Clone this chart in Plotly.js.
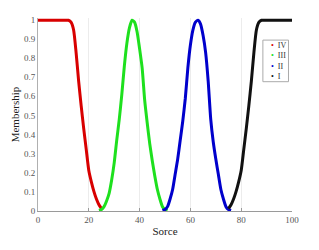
<!DOCTYPE html>
<html>
<head>
<meta charset="utf-8">
<script src="https://cdn.plot.ly/plotly-3.0.1.min.js"></script>
<style>html,body{margin:0;padding:0;background:#fff;}#chart{width:319px;height:250px;}</style>
</head>
<body>
<div id="chart"></div>
<script>
// Series IV (red)
const xIV = [0,1,2,3,4,5,6,7,8,9,10,11,12,13,14,15,16,17,18,19,20,21,22,23,24,25];
const yIV = [1,1,1,1,1,1,1,1,1,1,1,1,1,0.99,0.95,0.83,0.68,0.55,0.43,0.32,0.21,0.15,0.10,0.06,0.03,0.01];
// Series III (green)
const xIII = [24,25,26,27,28,29,30,31,32,33,34,35,36,37,38,39,40,41,42,43,44,45,46,47,48,49,50,51];
const yIII = [0,0.005,0.02,0.05,0.09,0.16,0.25,0.37,0.48,0.61,0.76,0.88,0.96,1.0,0.99,0.94,0.85,0.75,0.58,0.46,0.35,0.26,0.18,0.11,0.06,0.02,0.005,0];
// Series II (blue)
const xII = [49,50,51,52,53,54,55,56,57,58,59,60,61,62,63,64,65,66,67,68,69,70,71,72,73,74,75,76];
const yII = [0,0.005,0.02,0.06,0.11,0.19,0.27,0.37,0.47,0.59,0.75,0.87,0.95,0.99,1.0,0.98,0.92,0.83,0.68,0.48,0.36,0.27,0.19,0.11,0.06,0.02,0.005,0];
// Series I (black)
const xI = [75,76,77,78,79,80,81,82,83,84,85,86,87,88,89,90,91,92,93,94,95,96,97,98,99,100];
const yI = [0.01,0.03,0.06,0.10,0.15,0.21,0.32,0.43,0.55,0.68,0.83,0.95,0.99,1,1,1,1,1,1,1,1,1,1,1,1,1];

const names = ['IV','III','II','I'];
const colors = ['#d80000','#1ee01e','#0000cc','#111111'];
const xs = [xIV,xIII,xII,xI];
const ys = [yIV,yIII,yII,yI];

const xTicks = [0,20,40,60,80,100];
const yTicks = [0,0.1,0.2,0.3,0.4,0.5,0.6,0.7,0.8,0.9,1];

const traces = xs.map((x,i)=>({
  x: x, y: ys[i], type:'scatter', mode:'lines', name: names[i],
  line:{color: colors[i], width:3, shape:'spline', smoothing:0.6},
  showlegend:false, hoverinfo:'skip'
}));

const serif = 'Liberation Serif, Times New Roman, serif';
// manual compact legend (one annotation, one line per series)
const pxX = p => (p-38.5)/253;
const pxY = p => (211-p)/190.3;
const legendText = names.map((n,i)=>'<span style="color:'+colors[i]+'">•</span>  '+n).join('<br>');
const annotations = [{xref:'paper',yref:'paper',x:pxX(269),y:pxY(63),xanchor:'left',yanchor:'middle',
  text:legendText,showarrow:false,align:'left',font:{family:serif,size:8,color:'#333'}}];

const layout = {
  width:319, height:250,
  margin:{l:38, r:27, t:18, b:39},
  paper_bgcolor:'#fff', plot_bgcolor:'#fff',
  showlegend:false,
  font:{family:serif, color:'#333'},
  xaxis:{range:[0,100], tickvals:xTicks, ticktext:xTicks.map(String),
    showgrid:true, gridcolor:'#ececec', gridwidth:1, zeroline:false,
    showline:true, linecolor:'#9a9a9a', linewidth:1,
    ticks:'inside', ticklen:3, tickcolor:'#9a9a9a',
    tickfont:{family:serif,size:9,color:'#555'},
    title:{text:'Sorce', font:{family:serif,size:11,color:'#222'}, standoff:3}},
  yaxis:{range:[-0.003,1.012], tickvals:yTicks, ticktext:yTicks.map(v=>String(v)),
    showgrid:false, zeroline:false,
    showline:true, linecolor:'#b0b0b0', linewidth:1,
    ticks:'', tickfont:{family:serif,size:9,color:'#555'},
    title:{text:'Membership', font:{family:serif,size:11,color:'#222'}, standoff:2}},
  shapes:[{type:'rect',xref:'paper',yref:'paper',x0:pxX(262.5),x1:pxX(288),y0:pxY(83.5),y1:pxY(42.5),
    line:{color:'#aaaaaa',width:1},fillcolor:'#ffffff',layer:'above'}],
  annotations: annotations
};

Plotly.newPlot('chart', traces, layout, {staticPlot:true, displayModeBar:false});
</script>
</body>
</html>
